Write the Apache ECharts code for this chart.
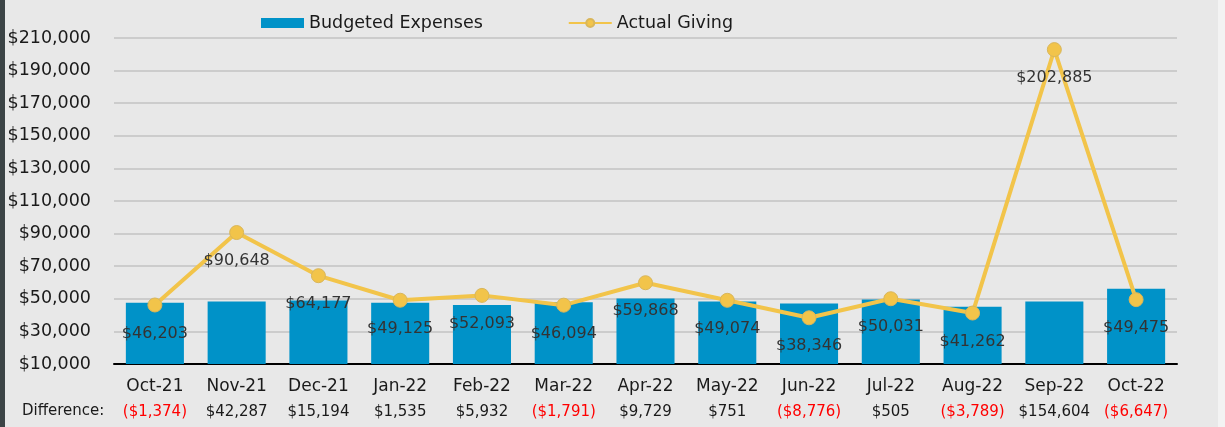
<!DOCTYPE html>
<html>
<head>
<meta charset="utf-8">
<script src="https://cdn.jsdelivr.net/npm/echarts@6/dist/echarts.min.js"></script>
<style>
  html, body { margin: 0; padding: 0; background: #f3f3f3; }
  #chart { width: 1225px; height: 427px; }
</style>
</head>
<body>
<div id="chart"></div>
<script>
// 月份
const months = ['Oct-21', 'Nov-21', 'Dec-21', 'Jan-22', 'Feb-22', 'Mar-22', 'Apr-22',
                'May-22', 'Jun-22', 'Jul-22', 'Aug-22', 'Sep-22', 'Oct-22'];
// 预算支出
const budgeted = [47577, 48361, 48983, 47590, 46161, 47885, 50139,
                  48323, 47122, 49526, 45051, 48281, 56122];
// 实际捐赠
const actual = [46203, 90648, 64177, 49125, 52093, 46094, 59868,
                49074, 38346, 50031, 41262, 202885, 49475];
// 差额
const difference = [-1374, 42287, 15194, 1535, 5932, -1791, 9729,
                    751, -8776, 505, -3789, 154604, -6647];
// 纵轴刻度
const yTicks = [10000, 30000, 50000, 70000, 90000, 110000, 130000, 150000, 170000, 190000, 210000];

const FONT = 'DejaVu Sans';

// 格式化金额
function money(v) {
    return '$' + Math.abs(v).toString().replace(/\B(?=(\d{3})+(?!\d))/g, ',');
}

const chart = echarts.init(document.getElementById('chart'));
chart.setOption({
    backgroundColor: '#e8e8e8',
    animation: false,
    textStyle: { fontFamily: FONT },
    graphic: [
        { type: 'rect', left: 0, top: 0, shape: { width: 5, height: 427 }, style: { fill: '#3c4446' } },
        { type: 'rect', left: 1218, top: 0, shape: { width: 7, height: 427 }, style: { fill: '#f3f3f3' } },
        { type: 'text', left: 22, top: 404, style: { text: 'Difference:', fill: '#1a1a1a', font: '15px ' + FONT } }
    ],
    legend: {
        left: 256,
        top: 9,
        itemWidth: 43,
        itemHeight: 10,
        itemGap: 85,
        textStyle: { fontSize: 17.5, color: '#1a1a1a', fontFamily: FONT },
        data: [
            { name: 'Budgeted Expenses', icon: 'rect' },
            { name: 'Actual Giving' }
        ]
    },
    grid: { left: 114, right: 48, top: 38, bottom: 63, containLabel: false },
    xAxis: [
        {
            type: 'category',
            data: months,
            axisLine: { lineStyle: { color: '#000', width: 2 } },
            axisTick: { show: false },
            axisLabel: { interval: 0, color: '#1a1a1a', fontSize: 17, margin: 14, fontFamily: FONT }
        },
        {
            type: 'category',
            data: difference,
            position: 'bottom',
            axisLine: { show: false },
            axisTick: { show: false },
            axisLabel: {
                interval: 0,
                margin: 41,
                fontSize: 15,
                fontFamily: FONT,
                formatter: v => (Number(v) < 0 ? '{neg|(' + money(v) + ')}' : '{pos|' + money(v) + '}'),
                rich: {
                    neg: { color: '#ff0000', fontSize: 15, fontFamily: FONT },
                    pos: { color: '#1a1a1a', fontSize: 15, fontFamily: FONT }
                }
            }
        }
    ],
    yAxis: {
        type: 'value',
        min: 10000,
        max: 210000,
        axisLine: { show: false },
        axisTick: { show: false, customValues: yTicks },
        splitLine: { lineStyle: { color: '#c3c3c3', width: 1.5 } },
        axisLabel: {
            customValues: yTicks,
            color: '#1a1a1a',
            fontSize: 17.5,
            margin: 23,
            fontFamily: FONT,
            formatter: v => money(v)
        }
    },
    series: [
        {
            name: 'Budgeted Expenses',
            type: 'bar',
            data: budgeted,
            barWidth: '71%',
            itemStyle: { color: '#0092c8' }
        },
        {
            name: 'Actual Giving',
            type: 'line',
            data: actual,
            symbol: 'circle',
            symbolSize: 14,
            z: 5,
            lineStyle: { color: '#f2c44a', width: 4 },
            itemStyle: { color: '#f2c44a', borderColor: '#d9b65a', borderWidth: 1 },
            label: {
                show: true,
                position: 'bottom',
                distance: 13,
                fontSize: 16,
                color: '#333333',
                fontFamily: FONT,
                formatter: p => money(p.value)
            }
        }
    ]
});
</script>
</body>
</html>
